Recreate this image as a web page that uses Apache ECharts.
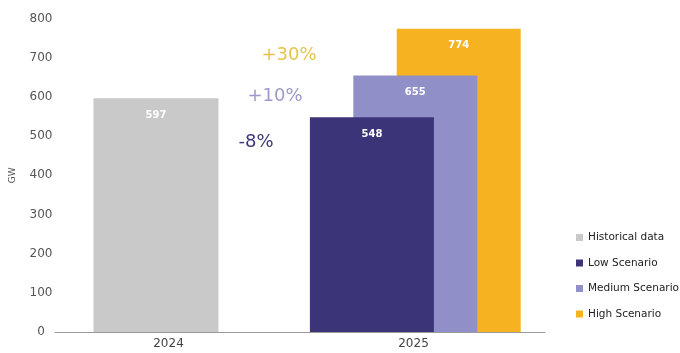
<!DOCTYPE html>
<html>
<head>
<meta charset="utf-8">
<script src="https://cdn.jsdelivr.net/npm/echarts@6/dist/echarts.min.js"></script>
<style>html,body{margin:0;padding:0;background:#fff}#c{width:680px;height:353px}</style>
</head>
<body>
<div id="c"></div>
<script>
const years = ['2024', '2025'];
const historical = [597, '-'];
const lowScenario = ['-', 548];
const mediumScenario = ['-', 655];
const highScenario = ['-', 774];
const yTicks = [0, 100, 200, 300, 400, 500, 600, 700, 800];
const changeLabels = ['+30%', '+10%', '-8%'];

const FONT = 'DejaVu Sans';
const chart = echarts.init(document.getElementById('c'), null, {renderer: 'canvas'});

const barLabel = {
  show: true, position: 'insideTop', distance: 12,
  color: '#fff', fontSize: 10, fontWeight: 'bold', fontFamily: FONT
};

chart.setOption({
  animation: false,
  backgroundColor: '#fff',
  textStyle: {fontFamily: FONT},
  grid: {left: 50, right: 135, top: 18.6, bottom: 21, containLabel: false},
  legend: {
    data: ['Historical data', 'Low Scenario', 'Medium Scenario', 'High Scenario'],
    orient: 'vertical', left: 571, top: 227,
    itemWidth: 7, itemHeight: 7, itemGap: 14.5, icon: 'rect',
    textStyle: {fontSize: 10.5, color: '#222', fontFamily: FONT, fontWeight: 500}
  },
  xAxis: [
    {
      type: 'category', data: years,
      axisLine: {show: true, lineStyle: {color: '#9a9a9a', width: 1}},
      axisTick: {show: false},
      axisLabel: {color: '#444', fontSize: 12, fontFamily: FONT, margin: 6, padding: [0, 18, 0, 0]}
    },
    {type: 'category', data: years, show: false}
  ],
  yAxis: {
    type: 'value', min: yTicks[0], max: yTicks[yTicks.length - 1], interval: 100,
    name: 'GW', nameLocation: 'middle', nameGap: 38,
    nameTextStyle: {fontSize: 9, color: '#555', fontFamily: FONT},
    axisLine: {show: false}, axisTick: {show: false},
    splitLine: {show: false},
    axisLabel: {color: '#555', fontSize: 12, fontFamily: FONT, align: 'center', margin: 14,
      padding: [0, 0, 7, 0]}
  },
  series: [
    {name: 'Historical data', type: 'bar', xAxisIndex: 0, data: historical,
      barWidth: 125, barGap: '-65.5%', itemStyle: {color: '#c9c9c9'}, label: barLabel},
    {name: '_padA', type: 'bar', xAxisIndex: 0, data: ['-', '-'], barWidth: 125, barGap: '-65.5%'},
    {name: 'Low Scenario', type: 'bar', xAxisIndex: 1, data: lowScenario, z: 4,
      barWidth: 124, barGap: '-65%', itemStyle: {color: '#3b3478'}, label: barLabel},
    {name: 'Medium Scenario', type: 'bar', xAxisIndex: 1, data: mediumScenario, z: 3,
      barWidth: 124, barGap: '-65%', itemStyle: {color: '#918fc8'}, label: barLabel},
    {name: 'High Scenario', type: 'bar', xAxisIndex: 1, data: highScenario, z: 2,
      barWidth: 124, barGap: '-65%', itemStyle: {color: '#f7b222'}, label: barLabel},
    {name: '_padB', type: 'bar', xAxisIndex: 1, data: ['-', '-'], barWidth: 95, barGap: '-65%'}
  ],
  graphic: [
    {type: 'text', x: 289, y: 55, style: {text: changeLabels[0], fill: '#e8c24c', fontSize: 18, fontWeight: 500, fontFamily: FONT, align: 'center', verticalAlign: 'middle'}},
    {type: 'text', x: 275, y: 96, style: {text: changeLabels[1], fill: '#9c9acb', fontSize: 18, fontWeight: 500, fontFamily: FONT, align: 'center', verticalAlign: 'middle'}},
    {type: 'text', x: 256, y: 142, style: {text: changeLabels[2], fill: '#3d3677', fontSize: 18, fontWeight: 500, fontFamily: FONT, align: 'center', verticalAlign: 'middle'}}
  ]
});
</script>
</body>
</html>
